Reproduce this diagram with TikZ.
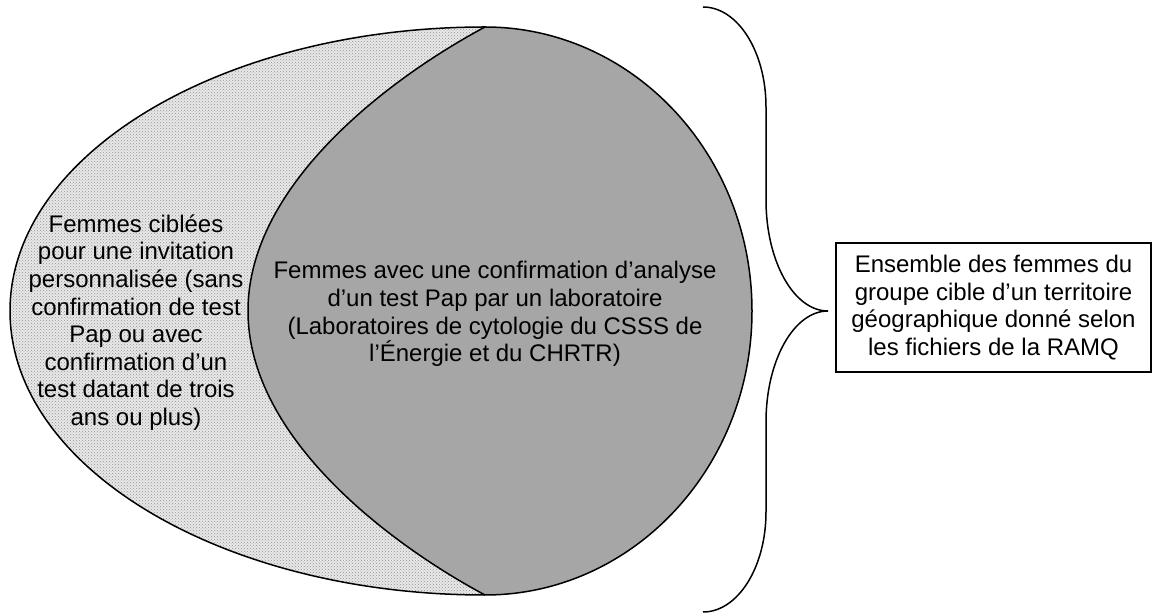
\documentclass[tikz,border=0pt]{standalone}
\usepackage{fontspec}
\setmainfont{Liberation Sans}
\usetikzlibrary{patterns}
\definecolor{lensgray}{RGB}{166,166,166}
\begin{document}
\begin{tikzpicture}[x=1pt,y=1pt,
  lbl/.style={align=center, font=\fontsize{24}{27.6}\selectfont, inner sep=0pt},
  outl/.style={line width=1.5pt, draw=black},
]
\useasboundingbox (0,0) rectangle (1152,613);
% dotted region (left part of the outer ellipse)
\fill[gray!18] (485,586) arc[start angle=90,end angle=270,x radius=475,y radius=284] -- cycle;
\fill[pattern=crosshatch dots, pattern color=gray!85] (485,586) arc[start angle=90,end angle=270,x radius=475,y radius=284] -- cycle;
% dark lens
\filldraw[fill=lensgray, outl] (485,586) .. controls (397,539) and (248,432) .. (248,302)
  .. controls (248,172) and (397,65) .. (485,18)
  arc[start angle=-90,end angle=90,x radius=267,y radius=284] -- cycle;
% outer ellipse outline (left half)
\draw[outl] (485,586) arc[start angle=90,end angle=270,x radius=475,y radius=284];
% texts
\node[lbl] (txtL) at (136,290.5) {Femmes ciblées\\pour une invitation\\personnalisée (sans\\confirmation de test\\Pap ou avec\\confirmation d’un\\test datant de trois\\ans ou plus)};
\node[lbl] (txtM) at (495,299) {Femmes avec une confirmation d’analyse\\d’un test Pap par un laboratoire\\(Laboratoires de cytologie du CSSS de\\l’Énergie et du CHRTR)};
% box
\node[lbl, outl, minimum width=315pt, minimum height=129pt] (box) at (993.5,305.5) {Ensemble des femmes du\\groupe cible d’un territoire\\géographique donné selon\\les fichiers de la RAMQ};
% brace
\coordinate (tip) at (828,302);
\draw[outl] (703,606) arc[start angle=90,end angle=0,x radius=63,y radius=100] -- (766,413)
  arc[start angle=180,end angle=270,x radius=62,y radius=111] -- (tip)
  arc[start angle=90,end angle=180,x radius=62,y radius=111] -- (766,101)
  arc[start angle=0,end angle=-90,x radius=63,y radius=100];
\end{tikzpicture}
\end{document}
